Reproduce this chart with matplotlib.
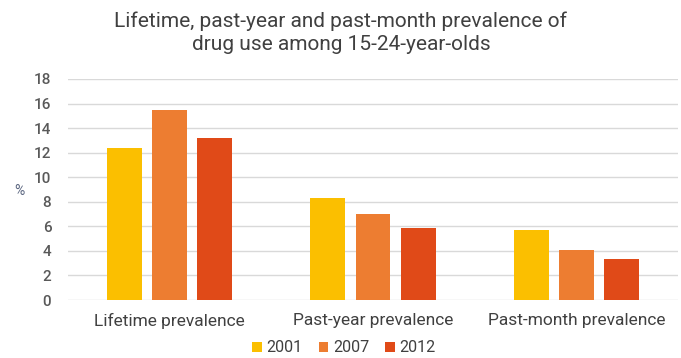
import numpy as np
import matplotlib
matplotlib.use("Agg")
from matplotlib import pyplot as plt

plt.rcParams["font.family"] = ["Roboto", "DejaVu Sans"]

categories = ["Lifetime prevalence", "Past-year prevalence", "Past-month prevalence"]
years = ["2001", "2007", "2012"]
values_2001 = [12.4, 8.3, 5.7]
values_2007 = [15.5, 7.0, 4.1]
values_2012 = [13.2, 5.9, 3.3]
yticks = [0, 2, 4, 6, 8, 10, 12, 14, 16, 18]

colors = ["#FBBF00", "#ED7D31", "#E04A18"]
series = [values_2001, values_2007, values_2012]

fig = plt.figure(figsize=(6.81, 3.58), dpi=100)
ax = fig.add_axes([68 / 681, 1 - 300 / 358, 610 / 681, 221 / 358])

x = np.arange(len(categories))
width = 0.172
step = 0.222
for i, (vals, year, c) in enumerate(zip(series, years, colors)):
    ax.bar(x + (i - 1) * step, vals, width, color=c, label=year, zorder=3)

ax.set_xlim(-0.5, len(categories) - 0.5)
ax.set_ylim(0, 18)
ax.set_yticks(yticks)
ax.set_xticks(x)
ax.set_xticklabels(categories, fontsize=12.5, color="#404040")
ax.tick_params(axis="y", labelsize=11, colors="#595959", length=0, pad=12)
for lbl in ax.get_yticklabels():
    lbl.set_fontweight("medium")
ax.tick_params(axis="x", length=0, pad=9)
ax.grid(axis="y", color="#D9D9D9", linewidth=1, zorder=0)
for s in ax.spines.values():
    s.set_visible(False)

fig.text(19 / 681, 1 - 191 / 358, "%", fontsize=10, color="#5B6680",
         ha="center", va="center")

fig.text(341 / 681, 1 - 33 / 358,
         "Lifetime, past-year and past-month prevalence of\ndrug use among 15-24-year-olds",
         fontsize=15, color="#404040", ha="center", va="center",
         linespacing=1.25)

fig.legend(loc="center", bbox_to_anchor=(344 / 681, 1 - 348 / 358), ncol=3,
           frameon=False, fontsize=11.5, handlelength=0.6, handleheight=0.6,
           handletextpad=0.3, columnspacing=1.0, labelcolor="#404040")

fig.savefig("out.png", dpi=100)
